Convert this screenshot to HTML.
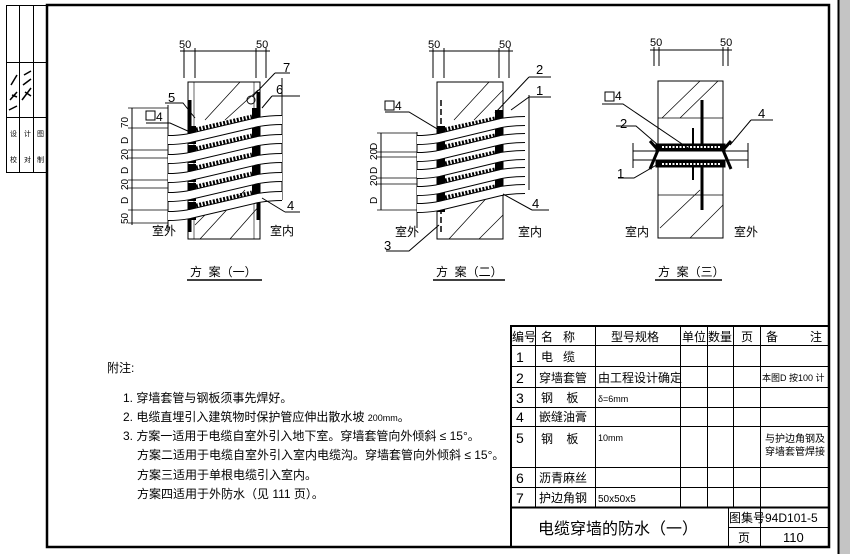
<!DOCTYPE html>
<html><head><meta charset="utf-8"><style>
html,body{margin:0;padding:0;background:#fff}
svg{display:block}
text{font-family:"Liberation Sans","Noto Sans CJK SC",sans-serif;fill:#000}
</style></head><body>
<svg width="850" height="554" viewBox="0 0 850 554" xmlns="http://www.w3.org/2000/svg">
<rect x="0" y="0" width="850" height="554" fill="#fff"/>
<!-- right gray band -->
<rect x="838" y="0" width="12" height="554" fill="#c4c4c4"/>
<line x1="838.5" y1="0" x2="838.5" y2="554" stroke="#000" stroke-width="2"/>
<!-- frame -->
<rect x="47" y="5" width="782" height="542" fill="none" stroke="#000" stroke-width="2.5"/>
<!-- stamp strip -->
<g stroke="#000" stroke-width="1" fill="none">
<rect x="6.5" y="5.5" width="40" height="167"/>
<line x1="19.5" y1="5" x2="19.5" y2="172"/>
<line x1="33.5" y1="5" x2="33.5" y2="172"/>
<line x1="6" y1="62.5" x2="46" y2="62.5"/>
<line x1="6" y1="117.5" x2="46" y2="117.5"/>
<path d="M9,110 l8,-4 M10,100 l7,-8 M11,85 l6,-10 M22,100 l9,-12 M23,85 l8,-6 M24,75 l7,-4 M12,95 l5,2 M25,92 l6,4" stroke-width="1.5"/>
</g>
<g font-size="7">
<text x="10" y="136">设</text><text x="24" y="136">计</text><text x="37" y="136">图</text>
<text x="10" y="162">校</text><text x="24" y="162">对</text><text x="37" y="162">制</text>
</g>

<!-- ===== Diagram 1 ===== -->
<g id="d1">
<g stroke="#000" stroke-width="1" fill="none">
<!-- wall -->
<rect x="188" y="82" width="72" height="157"/>
<line x1="194" y1="82" x2="194" y2="239" stroke-width="0.6"/>
<line x1="254" y1="82" x2="254" y2="239" stroke-width="0.6"/>
<path d="M205,120 L240,82 M225,120 L258,90 M200,239 L245,190 M230,239 L260,205 M195,225 L215,205" stroke-width="0.7"/>
<!-- outer lines -->
<line x1="168" y1="105" x2="168" y2="230"/>
<line x1="282" y1="78" x2="282" y2="200"/>
<!-- top dims -->
<line x1="184" y1="48" x2="184" y2="78"/><line x1="195" y1="48" x2="195" y2="78"/>
<line x1="256" y1="48" x2="256" y2="78"/><line x1="266" y1="48" x2="266" y2="78"/>
<line x1="180" y1="51" x2="270" y2="51"/>
<!-- angle plates -->
<line x1="190" y1="100" x2="190" y2="130" stroke-width="3"/>
<line x1="258" y1="92" x2="258" y2="120" stroke-width="3"/>
<line x1="190" y1="205" x2="190" y2="232" stroke-width="3"/>
<line x1="258" y1="195" x2="258" y2="220" stroke-width="3"/>
<circle cx="251" cy="100" r="4"/>
</g>
<!-- sleeves -->
<g stroke="#000" fill="none">
<g stroke-width="8">
<line x1="192" y1="126" x2="192" y2="144"/><line x1="256" y1="108" x2="256" y2="126"/>
<line x1="192" y1="145" x2="192" y2="163"/><line x1="256" y1="127" x2="256" y2="145"/>
<line x1="192" y1="164" x2="192" y2="182"/><line x1="256" y1="146" x2="256" y2="164"/>
<line x1="192" y1="183" x2="192" y2="201"/><line x1="256" y1="165" x2="256" y2="183"/>
<line x1="192" y1="202" x2="192" y2="220"/><line x1="256" y1="184" x2="256" y2="202"/>
</g>
<g stroke-width="5" stroke-dasharray="2,1.5">
<line x1="196" y1="130" x2="252" y2="117"/>
<line x1="196" y1="149" x2="252" y2="136"/>
<line x1="196" y1="168" x2="252" y2="155"/>
<line x1="196" y1="187" x2="252" y2="174"/>
<line x1="196" y1="206" x2="252" y2="193"/>
</g>
<g id="cab1">
<path d="M168,140 C180,140 184,139 190,138 L258,122 C264,121 270,120 282,120"/>
<path d="M168,159 C180,159 184,158 190,157 L258,141 C264,140 270,139 282,139"/>
<path d="M168,178 C180,178 184,177 190,176 L258,160 C264,159 270,158 282,158"/>
<path d="M168,197 C180,197 184,196 190,195 L258,179 C264,178 270,177 282,177"/>
<path d="M168,216 C180,216 184,215 190,214 L258,198 C264,197 270,196 282,196"/>
</g>
</g>
<use href="#cab1" stroke="#000" stroke-width="10"/>
<g stroke="#fff" stroke-width="8" fill="none">
<path d="M168,140 C180,140 184,139 190,138 L258,122 C264,121 270,120 282,120"/>
<path d="M168,159 C180,159 184,158 190,157 L258,141 C264,140 270,139 282,139"/>
<path d="M168,178 C180,178 184,177 190,176 L258,160 C264,159 270,158 282,158"/>
<path d="M168,197 C180,197 184,196 190,195 L258,179 C264,178 270,177 282,177"/>
<path d="M168,216 C180,216 184,215 190,214 L258,198 C264,197 270,196 282,196"/>
</g>
</g>
<!-- diagram 1 dims/labels -->
<g stroke="#000" stroke-width="1" fill="none">
<line x1="132" y1="108" x2="132" y2="225"/>
<path d="M128,108 h40 M128,128 h40 M128,150 h40 M128,158 h40 M128,180 h40 M128,188 h40 M128,210 h40 M128,223 h40" stroke-width="0.7"/>
<path d="M165,103 L183,103 L195,118 M275,73 L290,73 M275,73 L253,96 M272,96 L300,96 M272,96 L262,108 M285,212 L300,212 M285,212 L262,198 M146,123 L170,123 L190,132"/>
<rect x="146" y="111" width="9" height="9"/>
</g>
<g font-size="11">
<text x="179" y="48">50</text><text x="256" y="48">50</text>
<text x="168" y="102" font-size="13">5</text>
<text x="283" y="72" font-size="13">7</text>
<text x="276" y="94" font-size="13">6</text>
<text x="287" y="210" font-size="13">4</text>
<text x="156" y="121" font-size="12">4</text>
<g font-size="10">
<text transform="translate(128,128) rotate(-90)">70</text>
<text transform="translate(128,144) rotate(-90)">D</text>
<text transform="translate(128,160) rotate(-90)">20</text>
<text transform="translate(128,174) rotate(-90)">D</text>
<text transform="translate(128,190) rotate(-90)">20</text>
<text transform="translate(128,204) rotate(-90)">D</text>
<text transform="translate(128,224) rotate(-90)">50</text>
</g>
<text x="152" y="235" font-size="12">室外</text>
<text x="270" y="235" font-size="12">室内</text>
<text x="190" y="276" font-size="12">方&#160;&#160;案（一）</text>
</g>
<line x1="187" y1="280" x2="262" y2="280" stroke="#000" stroke-width="1.5"/>

<!-- ===== Diagram 2 ===== -->
<g transform="translate(249,0)">
<g stroke="#000" stroke-width="1" fill="none">
<rect x="188" y="82" width="66" height="157"/>
<path d="M205,120 L240,82 M225,120 L254,90 M200,239 L245,190 M230,239 L254,215" stroke-width="0.7"/>
<line x1="168" y1="132" x2="168" y2="228"/>
<line x1="280" y1="95" x2="280" y2="190"/>
<line x1="184" y1="48" x2="184" y2="78"/><line x1="195" y1="48" x2="195" y2="78"/>
<line x1="250" y1="48" x2="250" y2="78"/><line x1="260" y1="48" x2="260" y2="78"/>
<line x1="180" y1="51" x2="264" y2="51"/>
<line x1="192" y1="100" x2="192" y2="235" stroke-width="1.5" stroke-dasharray="6,3"/>
</g>
<g stroke="#000" fill="none">
<g stroke-width="8">
<line x1="192" y1="126" x2="192" y2="144"/><line x1="250" y1="110" x2="250" y2="128"/>
<line x1="192" y1="143" x2="192" y2="161"/><line x1="250" y1="127" x2="250" y2="145"/>
<line x1="192" y1="160" x2="192" y2="178"/><line x1="250" y1="144" x2="250" y2="162"/>
<line x1="192" y1="177" x2="192" y2="195"/><line x1="250" y1="161" x2="250" y2="179"/>
<line x1="192" y1="194" x2="192" y2="212"/><line x1="250" y1="178" x2="250" y2="196"/>
</g>
<g stroke-width="5" stroke-dasharray="2,1.5">
<line x1="196" y1="130" x2="246" y2="119"/>
<line x1="196" y1="147" x2="246" y2="136"/>
<line x1="196" y1="164" x2="246" y2="153"/>
<line x1="196" y1="181" x2="246" y2="170"/>
<line x1="196" y1="198" x2="246" y2="187"/>
</g>
<g stroke-width="10">
<path d="M168,140 C180,140 184,139 190,138 L252,123 C258,122 264,121 276,121"/>
<path d="M168,157 C180,157 184,156 190,155 L252,140 C258,139 264,138 276,138"/>
<path d="M168,174 C180,174 184,173 190,172 L252,157 C258,156 264,155 276,155"/>
<path d="M168,191 C180,191 184,190 190,189 L252,174 C258,173 264,172 276,172"/>
<path d="M168,208 C180,208 184,207 190,206 L252,191 C258,190 264,189 276,189"/>
</g>
<g stroke="#fff" stroke-width="8">
<path d="M168,140 C180,140 184,139 190,138 L252,123 C258,122 264,121 276,121"/>
<path d="M168,157 C180,157 184,156 190,155 L252,140 C258,139 264,138 276,138"/>
<path d="M168,174 C180,174 184,173 190,172 L252,157 C258,156 264,155 276,155"/>
<path d="M168,191 C180,191 184,190 190,189 L252,174 C258,173 264,172 276,172"/>
<path d="M168,208 C180,208 184,207 190,206 L252,191 C258,190 264,189 276,189"/>
</g>
</g>
<g stroke="#000" stroke-width="1" fill="none">
<line x1="132" y1="133" x2="132" y2="210"/>
<path d="M128,133 h40 M128,152 h40 M128,157 h40 M128,178 h40 M128,184 h40 M128,210 h40" stroke-width="0.7"/>
<path d="M280,77 L302,77 M280,77 L246,113 M280,97 L302,97 M280,97 L262,110 M283,210 L300,210 M283,210 L254,194 M136,112 L160,112 L190,130 M137,251 L160,251 L190,225"/>
<rect x="136" y="101" width="9" height="9"/>
</g>
</g>
<g font-size="11">
<text x="428" y="48">50</text><text x="499" y="48">50</text>
<text x="536" y="74" font-size="13">2</text>
<text x="536" y="95" font-size="13">1</text>
<text x="532" y="208" font-size="13">4</text>
<text x="384" y="250" font-size="13">3</text>
<text x="395" y="110" font-size="12">4</text>
<g font-size="10">
<text transform="translate(377,150) rotate(-90)">D</text>
<text transform="translate(377,160) rotate(-90)">20</text>
<text transform="translate(377,174) rotate(-90)">D</text>
<text transform="translate(377,186) rotate(-90)">20</text>
<text transform="translate(377,204) rotate(-90)">D</text>
</g>
<text x="395" y="236" font-size="12">室外</text>
<text x="518" y="236" font-size="12">室内</text>
<text x="436" y="276" font-size="12">方&#160;&#160;案（二）</text>
</g>
<line x1="433" y1="280" x2="505" y2="280" stroke="#000" stroke-width="1.5"/>

<!-- ===== Diagram 3 ===== -->
<g stroke="#000" stroke-width="1" fill="none">
<rect x="658" y="81" width="65" height="157"/>
<path d="M662,118 L700,81 M680,118 L718,81 M660,228 L700,190 M690,238 L723,205 M658,118 h65 M658,195 h65" stroke-width="0.7"/>
<line x1="654" y1="47" x2="654" y2="66"/><line x1="659" y1="47" x2="659" y2="66"/>
<line x1="723" y1="47" x2="723" y2="66"/><line x1="728" y1="47" x2="728" y2="66"/>
<line x1="650" y1="50" x2="732" y2="50"/>
<line x1="702" y1="100" x2="702" y2="210" stroke-width="3"/>
<line x1="693" y1="128" x2="693" y2="180" stroke-width="2"/>
<!-- pipe -->
<rect x="633" y="151" width="115" height="9" fill="#fff"/>
<line x1="633" y1="143" x2="633" y2="168"/><line x1="748" y1="143" x2="748" y2="168"/>
<rect x="656" y="144" width="69" height="6" fill="#000"/>
<rect x="656" y="161" width="69" height="6" fill="#000"/>
<line x1="662" y1="147" x2="720" y2="147" stroke="#fff" stroke-width="2" stroke-dasharray="2,1.5"/>
<line x1="662" y1="164" x2="720" y2="164" stroke="#fff" stroke-width="2" stroke-dasharray="2,1.5"/>
<path d="M650,141 L658,150 L650,169 M731,141 L723,150 L731,169" stroke-width="3"/>
<path d="M602,104 L623,104 L688,148 M616,126 L636,126 L658,145 M618,178 L634,178 L660,163 M751,120 L773,120 M751,120 L730,145"/>
<rect x="605" y="92" width="9" height="9"/>
</g>
<g font-size="11">
<text x="650" y="46">50</text><text x="720" y="46">50</text>
<text x="615" y="100" font-size="12">4</text>
<text x="620" y="128" font-size="13">2</text>
<text x="617" y="178" font-size="13">1</text>
<text x="758" y="118" font-size="13">4</text>
<text x="625" y="236" font-size="12">室内</text>
<text x="734" y="236" font-size="12">室外</text>
<text x="658" y="276" font-size="12">方&#160;&#160;案（三）</text>
</g>
<line x1="655" y1="280" x2="722" y2="280" stroke="#000" stroke-width="1.5"/>

<!-- ===== Notes ===== -->
<g font-size="12">
<text x="107" y="372">附注:</text>
<text x="123" y="402">1. 穿墙套管与钢板须事先焊好。</text>
<text x="123" y="421">2. 电缆直埋引入建筑物时保护管应伸出散水坡 <tspan font-size="9">200mm</tspan>。</text>
<text x="123" y="440">3. 方案一适用于电缆自室外引入地下室。穿墙套管向外倾斜 ≤ 15°。</text>
<text x="137" y="459">方案二适用于电缆自室外引入室内电缆沟。穿墙套管向外倾斜 ≤ 15°。</text>
<text x="137" y="479">方案三适用于单根电缆引入室内。</text>
<text x="137" y="498">方案四适用于外防水（见 111 页）。</text>
</g>

<!-- ===== Table ===== -->
<g stroke="#000" fill="none">
<rect x="511" y="326" width="318" height="221" stroke-width="2"/>
<g stroke-width="1">
<line x1="511" y1="345.5" x2="829" y2="345.5"/>
<line x1="511" y1="366.5" x2="829" y2="366.5"/>
<line x1="511" y1="387.5" x2="829" y2="387.5"/>
<line x1="511" y1="407.5" x2="829" y2="407.5"/>
<line x1="511" y1="426.5" x2="829" y2="426.5"/>
<line x1="511" y1="467.5" x2="829" y2="467.5"/>
<line x1="511" y1="487.5" x2="829" y2="487.5"/>
<line x1="535.5" y1="326" x2="535.5" y2="507"/>
<line x1="595.5" y1="326" x2="595.5" y2="507"/>
<line x1="680.5" y1="326" x2="680.5" y2="507"/>
<line x1="707.5" y1="326" x2="707.5" y2="507"/>
<line x1="733.5" y1="326" x2="733.5" y2="507"/>
<line x1="760.5" y1="326" x2="760.5" y2="547"/>
<line x1="728.5" y1="507" x2="728.5" y2="547"/>
<line x1="728" y1="527.5" x2="829" y2="527.5"/>
</g>
<line x1="511" y1="507.5" x2="829" y2="507.5" stroke-width="2"/>
</g>
<g font-size="12">
<text x="512" y="341">编号</text>
<text x="541" y="341">名&#160;&#160;&#160;称</text>
<text x="611" y="341">型号规格</text>
<text x="682" y="341">单位</text>
<text x="708" y="341">数量</text>
<text x="741" y="341">页</text>
<text x="766" y="341">备</text><text x="810" y="341">注</text>
<text x="516" y="362" font-size="14">1</text><text x="541" y="361">电&#160;&#160;&#160;缆</text>
<text x="516" y="383" font-size="14">2</text><text x="539" y="382">穿墙套管</text><text x="598" y="382">由工程设计确定</text>
<text x="762" y="381" font-size="9">本图D 按100 计</text>
<text x="516" y="403" font-size="14">3</text><text x="541" y="402">钢&#160;&#160;&#160;&#160;板</text><text x="598" y="402" font-size="9">δ=6mm</text>
<text x="516" y="422" font-size="14">4</text><text x="539" y="421">嵌缝油膏</text>
<text x="516" y="443" font-size="14">5</text><text x="541" y="443">钢&#160;&#160;&#160;&#160;板</text><text x="598" y="441" font-size="9">10mm</text>
<text x="765" y="442" font-size="10">与护边角钢及</text><text x="765" y="455" font-size="10">穿墙套管焊接</text>
<text x="516" y="483" font-size="14">6</text><text x="539" y="482">沥青麻丝</text>
<text x="516" y="503" font-size="14">7</text><text x="539" y="502">护边角钢</text><text x="598" y="502" font-size="10">50x50x5</text>
<text x="538" y="534" font-size="16">电缆穿墙的防水（一）</text>
<text x="729" y="522">图集号</text><text x="765" y="522" font-size="12" font-family="Liberation Serif">94D101-5</text>
<text x="738" y="542">页</text><text x="783" y="542" font-size="13" font-family="Liberation Serif">110</text>
</g>
</svg>
</body></html>
